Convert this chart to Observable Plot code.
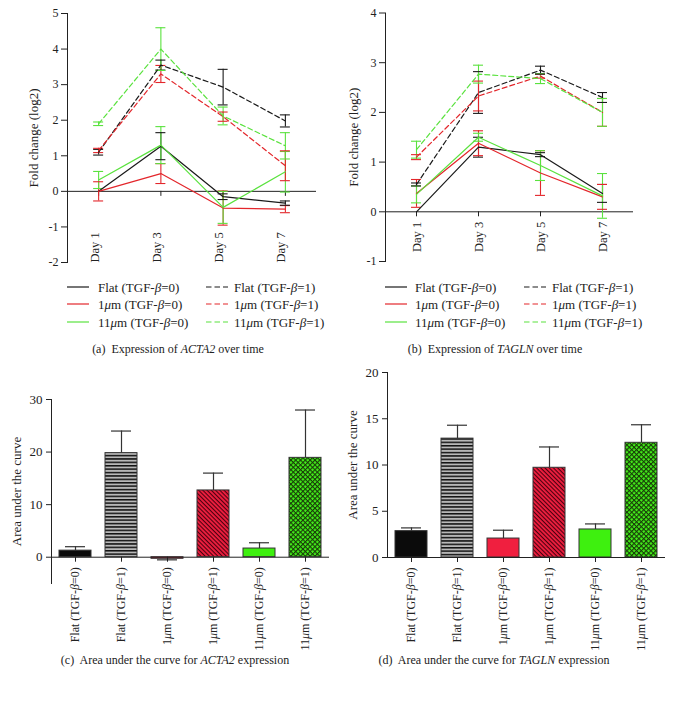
<!DOCTYPE html>
<html><head><meta charset="utf-8">
<script src="https://cdn.jsdelivr.net/npm/d3@7"></script>
<script src="https://cdn.jsdelivr.net/npm/@observablehq/plot@0.6"></script>
<style>
body{margin:0;background:#fff;}
#root{position:relative;width:673px;height:705px;background:#fff;font-family:"Liberation Serif","DejaVu Serif",serif;color:#222;overflow:hidden}
.cap{position:absolute;font-size:12px;white-space:nowrap;transform:translate(-50%,-50%);line-height:1}
.leg{position:absolute;font-size:13px;white-space:nowrap;transform:translateY(-50%);line-height:1}
.sw{position:absolute;transform:translateY(-50%)}
</style></head><body><div id="root"></div>
<script>
// ---------- data ----------
const days = [1, 3, 5, 7];
const seriesNames = ["Flat (TGF-β=0)", "1μm (TGF-β=0)", "11μm (TGF-β=0)", "Flat (TGF-β=1)", "1μm (TGF-β=1)", "11μm (TGF-β=1)"];
const seriesColors = ["#1a1a1a", "#e3262b", "#5ae23e", "#1a1a1a", "#e3262b", "#5ae23e"];
const seriesDashed = [false, false, false, true, true, true];

// ACTA2 fold change (log2), mean and SEM per series, days 1,3,5,7
const acta2Means = [
  [0, 1.27, -0.15, -0.33],
  [0, 0.5, -0.47, -0.5],
  [0.32, 1.3, -0.45, 0.55],
  [1.1, 3.55, 2.93, 1.98],
  [1.15, 3.3, 2.1, 0.72],
  [1.9, 4.0, 2.12, 1.28]
];
const acta2Errs = [
  [0, 0.38, 0.08, 0.06],
  [0.27, 0.28, 0.48, 0.1],
  [0.24, 0.52, 0.45, 0.57],
  [0.08, 0.14, 0.5, 0.17],
  [0.06, 0.24, 0.13, 0.42],
  [0.05, 0.6, 0.25, 0.37]
];
// TAGLN fold change (log2)
const taglnMeans = [
  [0, 1.3, 1.15, 0.37],
  [0.37, 1.38, 0.78, 0.3],
  [0.35, 1.5, 0.93, 0.32],
  [0.55, 2.4, 2.85, 2.3],
  [1.1, 2.33, 2.73, 2.0],
  [1.25, 2.77, 2.68, 2.0]
];
const taglnErrs = [
  [0, 0.2, 0.04, 0.18],
  [0.28, 0.25, 0.45, 0.25],
  [0.17, 0.08, 0.3, 0.45],
  [0.03, 0.42, 0.08, 0.1],
  [0.05, 0.3, 0.04, 0.28],
  [0.17, 0.18, 0.1, 0.28]
];

// Area under the curve
const barCats = ["Flat (TGF-β=0)", "Flat (TGF-β=1)", "1μm (TGF-β=0)", "1μm (TGF-β=1)", "11μm (TGF-β=0)", "11μm (TGF-β=1)"];
const barFills = ["#0b0b0b", "url(#pat-hstripe)", "#f01f3f", "url(#pat-diag)", "#3ef00f", "url(#pat-xhatch)"];
const acta2Auc = [1.25, 19.8, -0.3, 12.7, 1.65, 18.9];
const acta2AucErr = [0.75, 4.2, 0.2, 3.3, 1.1, 9.1];
const taglnAuc = [2.85, 12.85, 2.05, 9.7, 3.03, 12.4];
const taglnAucErr = [0.35, 1.45, 0.9, 2.25, 0.6, 1.95];

const acta2Ticks = [-2, -1, 0, 1, 2, 3, 4, 5];
const taglnTicks = [-1, 0, 1, 2, 3, 4];
const acta2AucTicks = [0, 10, 20, 30];
const taglnAucTicks = [0, 5, 10, 15, 20];

// ---------- helpers ----------
const root = document.getElementById("root");
const FONT = '"Liberation Serif","DejaVu Serif",serif';
const AX = "#222";

// pattern defs (document-wide)
root.insertAdjacentHTML("beforeend", `
<svg width="0" height="0" style="position:absolute">
 <defs>
  <pattern id="pat-hstripe" patternUnits="userSpaceOnUse" width="6" height="3.4">
    <rect width="6" height="3.4" fill="#b8b8b8"/>
    <rect width="6" height="1.5" fill="#111"/>
  </pattern>
  <pattern id="pat-diag" patternUnits="userSpaceOnUse" width="6" height="3" patternTransform="rotate(45)">
    <rect width="6" height="3" fill="#f01f3f"/>
    <rect width="6" height="1.1" fill="#4a0010"/>
  </pattern>
  <pattern id="pat-xhatch" patternUnits="userSpaceOnUse" width="3.4" height="3.4" patternTransform="rotate(45)">
    <rect width="3.4" height="3.4" fill="#173a08"/>
    <rect x="1.1" y="1.1" width="2.3" height="2.3" fill="#44ee1a"/>
  </pattern>
 </defs>
</svg>`);

function italicize(svg) {
  svg.querySelectorAll("text").forEach(t => {
    if (t.children.length) return;
    const s = t.textContent;
    if (!/[βμ]/.test(s)) return;
    t.textContent = "";
    s.split(/([βμ])/).forEach(part => {
      if (!part) return;
      const ts = document.createElementNS("http://www.w3.org/2000/svg", "tspan");
      ts.textContent = part;
      if (part === "β" || part === "μ") ts.setAttribute("font-style", "italic");
      t.appendChild(ts);
    });
  });
}
function place(el, left, top) {
  el.style.position = "absolute";
  el.style.left = left + "px";
  el.style.top = top + "px";
  root.appendChild(el);
  italicize(el);
}
function html(s) {
  return s.replace(/([βμ])/g, "<i>$1</i>");
}

function linePanel(means, errs, cfg) {
  const rows = [];
  seriesNames.forEach((name, s) => days.forEach((day, i) => rows.push({
    s, day, mean: means[s][i], err: errs[s][i],
    lo: means[s][i] - errs[s][i], hi: means[s][i] + errs[s][i], color: seriesColors[s]
  })));
  const eb = rows.filter(r => r.err > 0);
  const marks = [
    Plot.ruleY([0], {stroke: AX, strokeWidth: 1}),
    Plot.ruleX(days, {x: d => d, y1: () => 0, y2: () => 0, insetBottom: -5, stroke: AX}),
    Plot.frame({anchor: "left", stroke: AX}),
    Plot.axisY({ticks: cfg.ticks, tickSize: 6, tickPadding: 3, tickFormat: d => String(d), fontSize: 12, label: null, stroke: AX}),
    Plot.text(["Fold change (log2)"], {frameAnchor: "left", textAnchor: "middle", lineAnchor: "middle", dx: cfg.labelDx, rotate: -90, fontSize: 13, fill: AX}),
    cfg.dayAtBottom
      ? Plot.text(days, {x: d => d, frameAnchor: "bottom", text: d => "Day " + d, rotate: -90, textAnchor: "start", fontSize: 12.5, fill: AX})
      : Plot.text(days, {x: d => d, y: () => 0, dy: 10, text: d => "Day " + d, rotate: -90, textAnchor: "end", fontSize: 12.5, fill: AX}),
    Plot.ruleX(eb, {x: "day", y1: "lo", y2: "hi", stroke: "color", strokeWidth: 1.1}),
    Plot.ruleY(eb, {y: "hi", x1: "day", x2: "day", insetLeft: -5, insetRight: -5, stroke: "color", strokeWidth: 1.1}),
    Plot.ruleY(eb, {y: "lo", x1: "day", x2: "day", insetLeft: -5, insetRight: -5, stroke: "color", strokeWidth: 1.1})
  ];
  seriesNames.forEach((name, s) => {
    marks.push(Plot.line(rows.filter(r => r.s === s), {
      x: "day", y: "mean", stroke: seriesColors[s], strokeWidth: 1.2,
      strokeDasharray: seriesDashed[s] ? "5,3" : null
    }));
  });
  return Plot.plot({
    width: cfg.width, height: cfg.height,
    marginLeft: cfg.ml, marginRight: cfg.mr, marginTop: cfg.mt, marginBottom: cfg.mb,
    style: {fontFamily: FONT, background: "transparent", color: AX},
    x: {type: "linear", domain: [0, 8], axis: null},
    y: {domain: cfg.domain},
    color: {type: "identity"},
    marks
  });
}

function barPanel(vals, errs, cfg) {
  const rows = barCats.map((cat, i) => ({
    cat, v: vals[i], fill: barFills[i],
    hi: vals[i] >= 0 ? vals[i] + errs[i] : vals[i] - errs[i]
  }));
  return Plot.plot({
    width: cfg.width, height: cfg.height,
    marginLeft: cfg.ml, marginRight: cfg.mr, marginTop: cfg.mt, marginBottom: cfg.mb,
    style: {fontFamily: FONT, background: "transparent", color: AX},
    x: {type: "band", domain: barCats, paddingInner: 0.31, paddingOuter: 0.15, axis: null},
    y: {domain: cfg.domain},
    color: {type: "identity"},
    marks: [
      Plot.ruleX(rows, {x: "cat", y1: "v", y2: "hi", stroke: "#333", strokeWidth: 1.2}),
      Plot.ruleY(rows, {y: "hi", x1: "cat", x2: "cat", insetLeft: 6, insetRight: 6, stroke: "#333", strokeWidth: 1.2}),
      Plot.barY(rows, {x: "cat", y: "v", fill: "fill", stroke: "#333", strokeWidth: 1}),
      Plot.ruleY([0], {stroke: AX, strokeWidth: 1}),
      Plot.ruleX(barCats, {x: d => d, y1: () => 0, y2: () => 0, insetBottom: -5, stroke: AX}),
      Plot.frame({anchor: "left", stroke: AX}),
      Plot.axisY({ticks: cfg.ticks, tickSize: 5, tickPadding: 4, tickFormat: d => String(d), fontSize: 13, label: null, stroke: AX}),
      Plot.text(["Area under the curve"], {frameAnchor: "left", textAnchor: "middle", lineAnchor: "middle", dx: cfg.labelDx, rotate: -90, fontSize: 13, fill: AX}),
      Plot.text(barCats, {x: d => d, y: () => 0, dy: 10, rotate: -90, textAnchor: "end", fontSize: 12, fill: AX})
    ]
  });
}

// ---------- panels ----------
place(linePanel(acta2Means, acta2Errs, {
  width: 336, height: 270, ml: 67, mr: 20, mt: 13, mb: 8,
  domain: [-2, 5], ticks: acta2Ticks, labelDx: -34, dayAtBottom: true
}), 0, 0);

place(linePanel(taglnMeans, taglnErrs, {
  width: 337, height: 270, ml: 49, mr: 40, mt: 12.5, mb: 9,
  domain: [-1, 4], ticks: taglnTicks, labelDx: -32, dayAtBottom: false
}), 336, 0);

place(barPanel(acta2Auc, acta2AucErr, {
  width: 336, height: 300, ml: 51, mr: 7, mt: 19, mb: 97,
  domain: [-5, 30], ticks: acta2AucTicks, labelDx: -35
}), 0, 380);

place(barPanel(taglnAuc, taglnAucErr, {
  width: 337, height: 300, ml: 51, mr: 8, mt: 12, mb: 103,
  domain: [0, 20], ticks: taglnAucTicks, labelDx: -35
}), 336, 360);

// ---------- legends ----------
function legend(rowsY, col1, col2) {
  seriesNames.forEach((name, s) => {
    const col = s < 3 ? col1 : col2;
    const y = rowsY[s % 3];
    const sw = document.createElementNS("http://www.w3.org/2000/svg", "svg");
    sw.setAttribute("width", col.len + 2);
    sw.setAttribute("height", 4);
    sw.setAttribute("class", "sw");
    sw.style.left = (col.x - 1) + "px";
    sw.style.top = y + "px";
    sw.innerHTML = `<line x1="1" x2="${col.len + 1}" y1="2" y2="2" stroke="${seriesColors[s]}" stroke-width="1.2" ${seriesDashed[s] ? 'stroke-dasharray="5.5,3"' : ""}/>`;
    root.appendChild(sw);
    const t = document.createElement("div");
    t.className = "leg";
    t.style.left = col.tx + "px";
    t.style.top = y + "px";
    t.innerHTML = html(name);
    root.appendChild(t);
  });
}
const legendRows = [287, 304, 322];
legend(legendRows, {x: 67, len: 22, tx: 98}, {x: 206, len: 22, tx: 234});
legend(legendRows, {x: 385, len: 22, tx: 415}, {x: 524, len: 22, tx: 552});

// ---------- captions ----------
const captions = [
  {x: 178, y: 349, t: "(a)&nbsp; Expression of <i>ACTA2</i> over time"},
  {x: 495, y: 349, t: "(b)&nbsp; Expression of <i>TAGLN</i> over time"},
  {x: 175, y: 660, t: "(c)&nbsp; Area under the curve for <i>ACTA2</i> expression"},
  {x: 494, y: 660, t: "(d)&nbsp; Area under the curve for <i>TAGLN</i> expression"}
];
captions.forEach(c => {
  const d = document.createElement("div");
  d.className = "cap";
  d.style.left = c.x + "px";
  d.style.top = c.y + "px";
  d.innerHTML = c.t;
  root.appendChild(d);
});
</script></body></html>
